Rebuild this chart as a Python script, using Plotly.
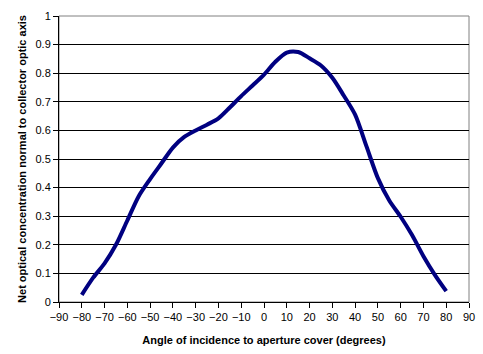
import plotly.graph_objects as go

angles = [-80, -75, -70, -65, -60, -55, -50, -45, -40, -35, -30, -25, -20, -15, -10, -5,
          0, 5, 10, 15, 20, 25, 30, 35, 40, 45, 50, 55, 60, 65, 70, 75, 80]
concentration = [0.025, 0.085, 0.135, 0.2, 0.285, 0.37, 0.43, 0.485, 0.54, 0.577, 0.6,
                 0.62, 0.642, 0.68, 0.72, 0.757, 0.795, 0.84, 0.872, 0.874, 0.852,
                 0.827, 0.784, 0.722, 0.655, 0.544, 0.433, 0.355, 0.298, 0.234, 0.16,
                 0.095, 0.038]

x_title = "Angle of incidence to aperture cover (degrees)"
y_title = "Net optical concentration normal to collector optic axis"

fig = go.Figure()
fig.add_trace(go.Scatter(
    x=angles, y=concentration, mode="lines",
    line=dict(color="#000080", width=4, shape="spline", smoothing=0.8),
    hoverinfo="skip", showlegend=False,
))

font_family = "Liberation Sans, Arial, sans-serif"
fig.update_layout(
    width=483, height=354,
    margin=dict(l=59, r=14, t=16, b=52),
    paper_bgcolor="white", plot_bgcolor="white",
    font=dict(family=font_family, size=11, color="black"),
    shapes=[dict(type="rect", xref="paper", yref="paper", x0=0, y0=0, x1=1, y1=1,
                 line=dict(color="#808080", width=1), layer="below")],
)
fig.update_xaxes(
    range=[-90, 90], dtick=10, tick0=-90, automargin=False,
    showline=True, linecolor="black", linewidth=1,
    ticks="outside", ticklen=5, tickcolor="black",
    showgrid=False, zeroline=False,
    title=dict(text="<b>" + x_title + "</b>", font=dict(size=11), standoff=14),
    tickfont=dict(size=11),
)
fig.update_yaxes(
    range=[0, 1], dtick=0.1, tick0=0, automargin=False,
    showline=True, linecolor="black", linewidth=1,
    ticks="outside", ticklen=5, tickcolor="black",
    showgrid=True, gridcolor="black", gridwidth=1, zeroline=False,
    title=dict(text="<b>" + y_title + "</b>", font=dict(size=11), standoff=6),
    tickfont=dict(size=11),
)

fig.write_html("out.html")
